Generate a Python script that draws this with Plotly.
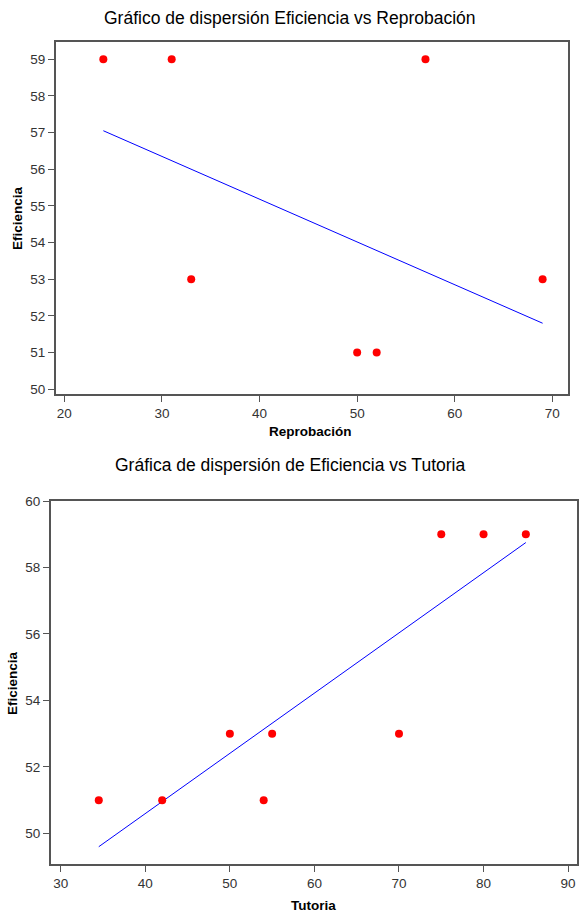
import plotly.graph_objects as go

W, H = 580, 913

# ---- data (top chart) ----
reprobacion = [24, 31, 57, 33, 50, 52, 69]
eficiencia_top = [59, 59, 59, 53, 51, 51, 53]
fit_top_x = [24, 69]
fit_top_y = [57.05, 51.8]

# ---- data (bottom chart) ----
tutoria = [34.5, 42, 50, 55, 54, 70, 75, 80, 85]
eficiencia_bot = [51, 51, 53, 53, 51, 53, 59, 59, 59]
fit_bot_x = [34.5, 85]
fit_bot_y = [49.6, 58.75]

title_top = "Gráfico de dispersión Eficiencia vs Reprobación"
title_bot = "Gráfica de dispersión de Eficiencia vs Tutoria"
xlab_top = "Reprobación"
xlab_bot = "Tutoria"
ylab = "Eficiencia"

FONT = "Liberation Sans"
AX = "#555555"

fig = go.Figure()
marker = dict(color="#ff0000", size=8, line=dict(width=0))
fig.add_trace(go.Scatter(x=fit_top_x, y=fit_top_y, mode="lines",
                         line=dict(color="#0000ff", width=1), xaxis="x", yaxis="y"))
fig.add_trace(go.Scatter(x=reprobacion, y=eficiencia_top, mode="markers",
                         marker=marker, xaxis="x", yaxis="y"))
fig.add_trace(go.Scatter(x=fit_bot_x, y=fit_bot_y, mode="lines",
                         line=dict(color="#0000ff", width=1), xaxis="x2", yaxis="y2"))
fig.add_trace(go.Scatter(x=tutoria, y=eficiencia_bot, mode="markers",
                         marker=marker, xaxis="x2", yaxis="y2"))

def px_x(p):
    return p / W

def px_y(p):
    return 1 - p / H

common = dict(showline=True, linecolor=AX, linewidth=2, mirror=True,
              ticks="outside", ticklen=6, tickwidth=1, tickcolor=AX,
              showgrid=False, zeroline=False,
              tickfont=dict(family=FONT, size=13.5, color="#333333"))

fig.update_layout(
    width=W, height=H, margin=dict(l=0, r=0, t=0, b=0, autoexpand=False),
    paper_bgcolor="white", plot_bgcolor="white", showlegend=False,
    xaxis=dict(domain=[px_x(56), px_x(568)], range=[19.15, 71.6],
               tickvals=[20, 30, 40, 50, 60, 70], anchor="y", **common),
    yaxis=dict(domain=[px_y(394), px_y(42)], range=[49.87, 59.47],
               tickvals=list(range(50, 60)), anchor="x", **common),
    xaxis2=dict(domain=[px_x(51), px_x(577)], range=[28.85, 91.05],
                tickvals=[30, 40, 50, 60, 70, 80, 90], anchor="y2", **common),
    yaxis2=dict(domain=[px_y(864), px_y(501)], range=[49.08, 60.0],
                tickvals=[50, 52, 54, 56, 58, 60], anchor="x2", **common),
)

def note(text, x, y, size, angle=0):
    return dict(text=text, x=px_x(x), y=px_y(y), xref="paper", yref="paper",
                xanchor="center", yanchor="middle", showarrow=False, textangle=angle,
                font=dict(family=FONT, size=size, color="#000"))

ann = [
    note(title_top, 290, 18, 17.5),
    note(title_bot, 290, 465, 17.5),
    note("<b>" + xlab_top + "</b>", 310, 432, 13.5),
    note("<b>" + xlab_bot + "</b>", 313, 905, 13.5),
    note("<b>" + ylab + "</b>", 17, 218, 13.5, -90),
    note("<b>" + ylab + "</b>", 12, 683, 13.5, -90),
]
fig.update_layout(annotations=ann)

fig.write_html("out.html")
